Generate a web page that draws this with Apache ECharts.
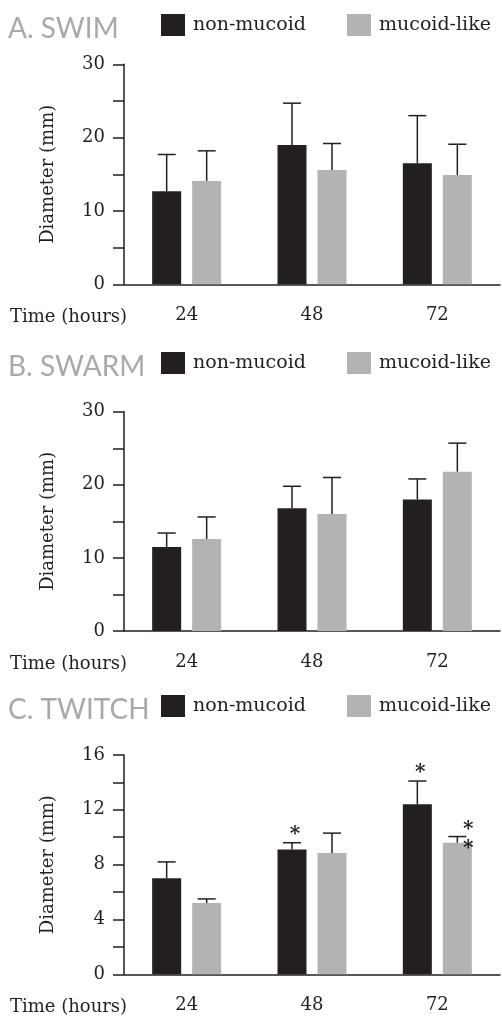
<!DOCTYPE html>
<html><head><meta charset="utf-8">
<script src="https://cdn.jsdelivr.net/npm/echarts@6/dist/echarts.min.js"></script>
<style>html,body{margin:0;padding:0;background:#fff}#c{width:502px;height:1018px}</style>
</head><body><div id="c"></div>
<script>
const categories = ['24', '48', '72'];
const panelTitles = ['A. SWIM', 'B. SWARM', 'C. TWITCH'];
const seriesNames = ['non-mucoid', 'mucoid-like'];
const xAxisTitle = 'Time (hours)';
const yAxisTitle = 'Diameter (mm)';

const swimNonMucoid = [12.7, 19.0, 16.5];
const swimNonMucoidErr = [5.0, 5.7, 6.5];
const swimMucoidLike = [14.1, 15.6, 14.9];
const swimMucoidLikeErr = [4.1, 3.6, 4.2];

const swarmNonMucoid = [11.5, 16.8, 18.0];
const swarmNonMucoidErr = [1.9, 3.0, 2.8];
const swarmMucoidLike = [12.6, 16.0, 21.8];
const swarmMucoidLikeErr = [3.0, 5.0, 3.9];

const twitchNonMucoid = [7.0, 9.1, 12.4];
const twitchNonMucoidErr = [1.2, 0.5, 1.7];
const twitchMucoidLike = [5.2, 8.85, 9.6];
const twitchMucoidLikeErr = [0.3, 1.45, 0.45];
const twitchNonMucoidSig = ['', '*', '*'];
const twitchMucoidLikeSig = ['', '', '**'];

const yMax = [30, 30, 16];
const yTickStep = [5, 5, 2];
const yLabelStep = [10, 10, 4];

const panels = [
  {vals: [swimNonMucoid, swimMucoidLike], errs: [swimNonMucoidErr, swimMucoidLikeErr], sig: [[], []]},
  {vals: [swarmNonMucoid, swarmMucoidLike], errs: [swarmNonMucoidErr, swarmMucoidLikeErr], sig: [[], []]},
  {vals: [twitchNonMucoid, twitchMucoidLike], errs: [twitchNonMucoidErr, twitchMucoidLikeErr], sig: [twitchNonMucoidSig, twitchMucoidLikeSig]}
];

// layout (pixels)
const gridTop = [64.3, 411.7, 755];
const gridH = [220, 219.3, 219.3];
const headTop = [14, 352, 695];
const colors = ['#231f20', '#b3b3b3'];
const ink = '#231f20';
const SERIF = 'DejaVu Serif';
const BAR_W = 29, BAR_GAP_PX = 11;
const HALF = (BAR_W + BAR_GAP_PX) / 2;

const chart = echarts.init(document.getElementById('c'), null, {renderer: 'canvas'});

const grid = [], xAxis = [], yAxis = [], series = [], title = [], legend = [];

panels.forEach((p, pi) => {
  grid.push({left: 124, right: 2, top: gridTop[pi], height: gridH[pi]});
  xAxis.push({
    type: 'category', gridIndex: pi, data: categories,
    axisLine: {lineStyle: {color: ink, width: 1.5}},
    axisTick: {alignWithLabel: true, length: 10, lineStyle: {color: ink, width: 1.5}},
    axisLabel: {margin: 22, color: ink, fontFamily: SERIF, fontSize: 18},
    splitLine: {show: false}
  });
  yAxis.push({
    type: 'value', gridIndex: pi, min: 0, max: yMax[pi], interval: yTickStep[pi],
    name: yAxisTitle, nameLocation: 'middle', nameRotate: 90, nameGap: 67,
    nameTextStyle: {color: ink, fontFamily: SERIF, fontSize: 18},
    axisLine: {show: true, lineStyle: {color: ink, width: 1.5}},
    axisTick: {show: true, length: 11, lineStyle: {color: ink, width: 1.5}},
    axisLabel: {margin: 19, color: ink, fontFamily: SERIF, fontSize: 18,
      formatter: v => (v % yLabelStep[pi] === 0 ? String(v) : '')},
    splitLine: {show: false}
  });
  title.push({
    text: panelTitles[pi], left: 8, top: headTop[pi] - 1, padding: 0,
    textStyle: {color: '#a7a9ac', fontFamily: 'Lato', fontWeight: 'normal', fontSize: 28, lineHeight: 32}
  });
  title.push({
    text: xAxisTitle, left: 10, top: gridTop[pi] + gridH[pi] + 22, padding: 0,
    textStyle: {color: ink, fontFamily: SERIF, fontWeight: 'normal', fontSize: 18, lineHeight: 22}
  });
  seriesNames.forEach((nm, si) => {
    legend.push({
      data: [nm], left: si === 0 ? 161 : 347, top: headTop[pi], padding: 0,
      icon: 'rect', itemWidth: 24, itemHeight: 22, itemGap: 0,
      textStyle: {color: ink, fontFamily: SERIF, fontSize: 19, padding: [0, 0, 0, 3]}
    });
    series.push({
      type: 'bar', name: nm, xAxisIndex: pi, yAxisIndex: pi,
      data: p.vals[si], barWidth: BAR_W, barGap: (BAR_GAP_PX / BAR_W * 100) + '%',
      itemStyle: {color: colors[si]}, emphasis: {disabled: true}, z: 2
    });
  });
  seriesNames.forEach((nm, si) => {
    const data = p.vals[si].map((v, i) => [i, v, v + p.errs[si][i]]);
    const sig = p.sig[si];
    series.push({
      type: 'custom', xAxisIndex: pi, yAxisIndex: pi, z: 3, silent: true,
      encode: {x: 0, y: [1, 2]},
      data,
      renderItem: (params, api) => {
        const idx = api.value(0);
        const top = api.coord([idx, api.value(2)]);
        const base = api.coord([idx, api.value(1)]);
        const cx = top[0] + (si === 0 ? -HALF : HALF);
        const children = [
          {type: 'line', shape: {x1: cx, y1: base[1], x2: cx, y2: top[1]}, style: {stroke: ink, lineWidth: 1.5}},
          {type: 'line', shape: {x1: cx - 9, y1: top[1], x2: cx + 9, y2: top[1]}, style: {stroke: ink, lineWidth: 1.5}}
        ];
        const s = sig[params.dataIndex] || '';
        const f = 'bold 20px "' + SERIF + '"';
        if (s.length === 1) {
          children.push({type: 'text', style: {text: '*', x: cx + 3, y: top[1] - 8, align: 'center', verticalAlign: 'middle', font: f, fill: ink}});
        } else if (s.length > 1) {
          for (let k = 0; k < s.length; k++) {
            children.push({type: 'text', style: {text: '*', x: cx + 11, y: top[1] - 7 + k * 19, align: 'center', verticalAlign: 'middle', font: f, fill: ink}});
          }
        }
        return {type: 'group', children};
      }
    });
  });
});

chart.setOption({
  animation: false,
  backgroundColor: '#fff',
  title, legend, grid, xAxis, yAxis, series
});
</script>
</body></html>
